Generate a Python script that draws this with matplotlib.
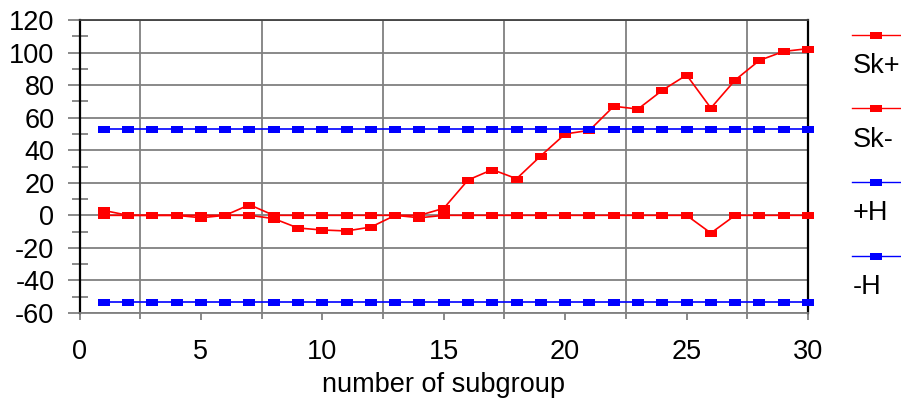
import numpy as np
import matplotlib
matplotlib.use("Agg")
import matplotlib.pyplot as plt
from matplotlib.lines import Line2D
from matplotlib.ticker import MultipleLocator

plt.rcParams['font.family'] = ['Liberation Sans', 'DejaVu Sans']
plt.rcParams['axes.unicode_minus'] = False

subgroup = list(range(1, 31))
sk_plus = [3.0, 0, 0, 0, 0, 0, 6.5, 0, 0, 0, 0, 0, 0, 0, 4.3,
           21.7, 28.1, 22.5, 36.6, 50.0, 52.2, 67.0, 65.3, 76.8, 86.2,
           65.9, 83.1, 95.2, 100.7, 102.4]
sk_minus = [0, 0, 0, 0, -1.5, 0, 0, -2.0, -7.8, -9.0, -9.6, -7.2, 0, -1.5, 0,
            0, 0, 0, 0, 0, 0, 0, 0, 0, 0, -10.9, 0, 0, 0, 0]
h_value = 53.2
h_plus = [h_value] * 30
h_minus = [-h_value] * 30
series_labels = ["Sk+", "Sk-", "+H", "-H"]
series_colors = ["#FF0000", "#FF0000", "#0000FF", "#0000FF"]
x_label = "number of subgroup"

W, H = 901, 398
fig = plt.figure(figsize=(W / 100, H / 100), dpi=100)
ax = fig.add_axes([79.5 / W, 1 - 313 / H, (808 - 79.5) / W, (313 - 20) / H])

rect = [(-6, -3.5), (6, -3.5), (6, 3.5), (-6, 3.5), (-6, -3.5)]
msize = 12 * 72 / 100

for ys, c in zip([sk_plus, sk_minus, h_plus, h_minus], series_colors):
    ax.plot(subgroup, ys, color=c, lw=1.2, marker=rect, markersize=msize,
            markeredgewidth=0, markerfacecolor=c, zorder=3, clip_on=False)

ax.set_xlim(0, 30)
ax.set_ylim(-60, 120)
ax.xaxis.set_major_locator(MultipleLocator(5))
ax.xaxis.set_minor_locator(MultipleLocator(5, offset=2.5))
ax.yaxis.set_major_locator(MultipleLocator(20))
ax.yaxis.set_minor_locator(MultipleLocator(20, offset=10))

gray = "#808080"
ax.xaxis.grid(True, which='minor', color=gray, lw=1.3)
ax.xaxis.grid(False, which='major')
ax.yaxis.grid(True, which='major', color=gray, lw=1.3)
ax.set_axisbelow(True)

fs = 19.5
ax.tick_params(axis='x', which='major', direction='out', length=5, width=1.3,
               color=gray, labelsize=fs, pad=14)
ax.tick_params(axis='x', which='minor', direction='out', length=4, width=1.3,
               color=gray)
ax.tick_params(axis='y', which='major', direction='out', length=9, width=1.3,
               color=gray, labelsize=fs, pad=9)
ax.tick_params(axis='y', which='minor', direction='inout', length=11, width=1.3,
               color=gray)

ax.spines['left'].set_color('black')
ax.spines['left'].set_linewidth(1.6)
ax.spines['right'].set_color('black')
ax.spines['right'].set_linewidth(1.6)
ax.spines['top'].set_color('#404040')
ax.spines['top'].set_linewidth(1.3)
ax.spines['bottom'].set_color(gray)
ax.spines['bottom'].set_linewidth(1.3)

ax.set_xlabel(x_label, fontsize=fs, labelpad=5)

# legend drawn manually on the right
line_y = [35, 108, 182, 256]
text_y = [66, 140, 213, 287]
for lab, c, ly, ty in zip(series_labels, series_colors, line_y, text_y):
    fig.add_artist(Line2D([852 / W, 901 / W], [1 - ly / H] * 2,
                          transform=fig.transFigure, color=c, lw=1.0))
    fig.add_artist(Line2D([876 / W], [1 - ly / H], transform=fig.transFigure,
                          color=c, marker=rect, markersize=msize,
                          markeredgewidth=0, linestyle='none'))
    fig.text(853 / W, 1 - ty / H, lab, fontsize=fs, ha='left', va='center')

fig.savefig("out.png", dpi=100)
